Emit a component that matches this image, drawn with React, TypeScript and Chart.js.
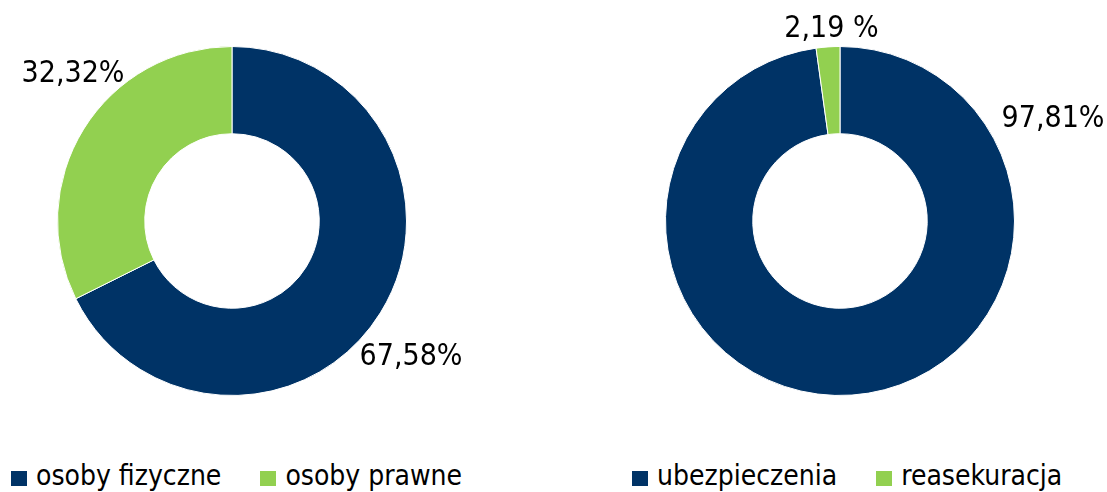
import React, { useEffect, useRef } from 'react';
import { Chart, registerables } from 'chart.js';

Chart.register(...registerables);

// ---- data ----
const leftCategories = ['osoby fizyczne', 'osoby prawne'];
const leftValues = [67.58, 32.32];
const leftLabels = ['67,58%', '32,32%'];

const rightCategories = ['ubezpieczenia', 'reasekuracja'];
const rightValues = [97.81, 2.19];
const rightLabels = ['97,81%', '2,19 %'];

// ---- styles ----
const COLORS = ['#003366', '#92D050'];
const FONT = "'DejaVu Sans Condensed', 'DejaVu Sans', sans-serif";

// label offsets (px) from the donut centre to the text baseline centre
const leftLabelOffsets = [
  [179, 144],
  [-159, -139],
];
const rightLabelOffsets = [
  [213, -94],
  [-8.5, -184],
];

const makeLabelPlugin = (labels: string[], offsets: number[][]) => ({
  id: 'outerLabels',
  afterDatasetsDraw(chart: any) {
    const meta = chart.getDatasetMeta(0);
    const ctx = chart.ctx;
    ctx.save();
    ctx.font = `30px ${FONT}`;
    ctx.fillStyle = '#000000';
    ctx.textAlign = 'center';
    ctx.textBaseline = 'alphabetic';
    meta.data.forEach((arc: any, i: number) => {
      const [dx, dy] = offsets[i];
      ctx.fillText(labels[i], arc.x + dx, arc.y + dy);
    });
    ctx.restore();
  },
});

interface DonutProps {
  categories: string[];
  values: number[];
  labels: string[];
  offsets: number[][];
  left: number;
  width: number;
  padding: { top: number; bottom: number; left: number; right: number };
}

function Donut({ categories, values, labels, offsets, left, width, padding }: DonutProps) {
  const ref = useRef<HTMLCanvasElement>(null);
  useEffect(() => {
    if (!ref.current) return;
    const chart = new Chart(ref.current, {
      type: 'doughnut',
      data: {
        labels: categories,
        datasets: [
          {
            data: values,
            backgroundColor: COLORS,
            borderColor: '#ffffff',
            borderWidth: 1,
          },
        ],
      },
      options: {
        responsive: false,
        animation: false,
        devicePixelRatio: 1,
        cutout: '50%',
        events: [],
        layout: { padding },
        plugins: {
          legend: { display: false },
          tooltip: { enabled: false },
        },
      },
      plugins: [makeLabelPlugin(labels, offsets)],
    });
    return () => chart.destroy();
  }, []);
  return (
    <canvas
      ref={ref}
      width={width}
      height={442}
      style={{ position: 'absolute', left, top: 0, width, height: 442 }}
    />
  );
}

function Legend({ categories, left }: { categories: string[]; left: number }) {
  return (
    <div
      style={{
        position: 'absolute',
        left,
        top: 459,
        display: 'flex',
        alignItems: 'center',
        fontFamily: FONT,
        fontSize: 28,
        color: '#000',
        whiteSpace: 'nowrap',
        lineHeight: '34px',
      }}
    >
      {categories.map((c, i) => (
        <div key={c} style={{ display: 'flex', alignItems: 'center', marginRight: 39 }}>
          <span
            style={{
              display: 'inline-block',
              width: 16,
              height: 15,
              background: COLORS[i],
              marginRight: 9,
              marginTop: 4,
            }}
          />
          <span>{c}</span>
        </div>
      ))}
    </div>
  );
}

export default function App() {
  return (
    <div style={{ position: 'absolute', left: 0, top: 0, width: 1107, height: 492, background: '#fff', overflow: 'hidden' }}>
      <Donut
        categories={leftCategories}
        values={leftValues}
        labels={leftLabels}
        offsets={leftLabelOffsets}
        left={0}
        width={500}
        padding={{ top: 46, bottom: 46, left: 0, right: 36 }}
      />
      <Donut
        categories={rightCategories}
        values={rightValues}
        labels={rightLabels}
        offsets={rightLabelOffsets}
        left={600}
        width={507}
        padding={{ top: 46, bottom: 46, left: 0, right: 27 }}
      />
      <Legend categories={leftCategories} left={11} />
      <Legend categories={rightCategories} left={632} />
    </div>
  );
}
